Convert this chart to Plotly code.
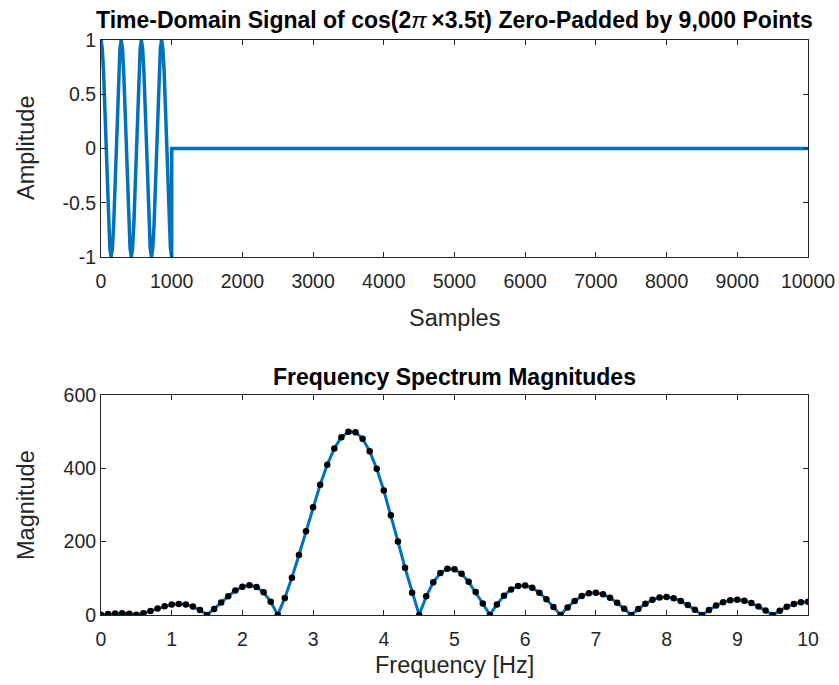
import plotly.graph_objects as go

# ---- Top: time-domain signal (sample index, amplitude) ----
sample_idx = [0, 18, 36, 54, 71, 89, 107, 125, 143, 161, 179, 196, 214, 232, 250, 268,
              286, 304, 321, 339, 357, 375, 393, 411, 429, 446, 464, 482, 500, 518, 536, 554,
              571, 589, 607, 625, 643, 661, 679, 696, 714, 732, 750, 768, 786, 804, 821, 839,
              857, 875, 893, 911, 929, 946, 964, 982, 1000, 1001, 10000]
amplitude = [1, .92, .71, .38, 0, -.38, -.71, -.92, -1, -.92, -.71, -.38, 0, .38, .71, .92,
             1, .92, .71, .38, 0, -.38, -.71, -.92, -1, -.92, -.71, -.38, 0, .38, .71, .92,
             1, .92, .71, .38, 0, -.38, -.71, -.92, -1, -.92, -.71, -.38, 0, .38, .71, .92,
             1, .92, .71, .38, 0, -.38, -.71, -.92, -1, 0, 0]

# ---- Bottom: spectrum magnitudes 0..10 Hz ----
freq_hz = [i / 10 for i in range(101)]
magnitude = [1.0, 2.5, 4.2, 4.6, 3.3, 0.5, 5.0, 11.1, 17.7, 23.8,
             28.3, 30.2, 28.6, 23.0, 13.4, 0.3, 16.2, 34.0, 51.4, 66.6,
             77.2, 81.1, 76.5, 61.8, 36.4, 0.3, 46.6, 101.9, 163.5, 228.6,
             293.8, 355.5, 409.9, 454.0, 484.7, 500.0, 498.7, 480.7, 446.8, 398.9,
             339.5, 272.2, 200.6, 128.9, 60.9, 0.3, 50.8, 89.4, 114.5, 126.1,
             124.8, 112.2, 90.5, 62.6, 31.4, 0.3, 28.8, 52.7, 69.8, 79.2,
             80.4, 74.0, 61.0, 43.0, 21.9, 0.3, 20.7, 38.4, 51.5, 59.1,
             60.6, 56.3, 46.8, 33.3, 17.1, 0.3, 16.4, 30.6, 41.3, 47.7,
             49.2, 46.0, 38.4, 27.4, 14.2, 0.3, 13.7, 25.7, 34.8, 40.2,
             41.7, 39.1, 32.7, 23.4, 12.2, 0.3, 11.8, 22.2, 30.1, 34.9,
             36.3]

top_xticks = list(range(0, 10001, 1000))
top_yticks = [-1, -0.5, 0, 0.5, 1]
bot_xticks = list(range(0, 11))
bot_yticks = [0, 200, 400, 600]

W, H = 839, 685
FONT = "Liberation Sans, Arial, Helvetica, sans-serif"
AX = "#262626"
BLUE = "#0072BD"

def px_x(p):
    return p / W

def px_y(p):
    return 1 - p / H

fig = go.Figure()
fig.add_trace(go.Scatter(x=sample_idx, y=amplitude, mode="lines",
                         line=dict(color=BLUE, width=3.5), xaxis="x", yaxis="y",
                         showlegend=False, hoverinfo="skip"))
fig.add_trace(go.Scatter(x=freq_hz, y=magnitude, mode="lines",
                         line=dict(color=BLUE, width=3), xaxis="x2", yaxis="y2",
                         showlegend=False))
fig.add_trace(go.Scatter(x=freq_hz, y=magnitude, mode="markers",
                         marker=dict(color="black", size=6.5), xaxis="x2", yaxis="y2",
                         showlegend=False))

axis_common = dict(showline=True, linecolor=AX, linewidth=1, mirror="ticks",
                   ticks="inside", ticklen=5, tickcolor=AX, showgrid=False,
                   zeroline=False, automargin=False,
                   tickfont=dict(family=FONT, size=19.5, color=AX))

xdom = [px_x(101), px_x(808)]
fig.update_layout(
    width=W, height=H,
    margin=dict(l=0, r=0, t=0, b=0),
    paper_bgcolor="white", plot_bgcolor="white",
    xaxis=dict(domain=xdom, range=[0, 10000], tickvals=top_xticks,
               ticktext=[str(v) for v in top_xticks], anchor="y",
               ticklabelstandoff=7, **axis_common),
    yaxis=dict(domain=[px_y(257), px_y(40)], range=[-1, 1], tickvals=top_yticks,
               ticktext=["-1", "-0.5", "0", "0.5", "1"], anchor="x", **axis_common),
    xaxis2=dict(domain=xdom, range=[0, 10], tickvals=bot_xticks,
                ticktext=[str(v) for v in bot_xticks], anchor="y2",
                ticklabelstandoff=7, **axis_common),
    yaxis2=dict(domain=[px_y(615), px_y(395)], range=[0, 600], tickvals=bot_yticks,
                ticktext=[str(v) for v in bot_yticks], anchor="x2", **axis_common),
)

cx = (101 + 808) / 2
annots = [
    dict(text="<b>Time-Domain Signal of cos(2</b><i>π</i>\u2009<b>×3.5t) Zero-Padded by 9,000 Points</b>",
         x=px_x(cx), y=px_y(20), size=23, color="black", angle=0),
    dict(text="<b>Frequency Spectrum Magnitudes</b>", x=px_x(cx), y=px_y(377), size=23,
         color="black", angle=0),
    dict(text="Samples", x=px_x(cx), y=px_y(318), size=23.5, color=AX, angle=0),
    dict(text="Frequency [Hz]", x=px_x(cx), y=px_y(665), size=23.5, color=AX, angle=0),
    dict(text="Amplitude", x=px_x(26), y=px_y(148), size=23.5, color=AX, angle=-90),
    dict(text="Magnitude", x=px_x(26), y=px_y(505), size=23.5, color=AX, angle=-90),
]
for a in annots:
    fig.add_annotation(text=a["text"], x=a["x"], y=a["y"], xref="paper", yref="paper",
                       xanchor="center", yanchor="middle", showarrow=False,
                       textangle=a["angle"], font=dict(family=FONT, size=a["size"], color=a["color"]))

fig.write_html("out.html")
